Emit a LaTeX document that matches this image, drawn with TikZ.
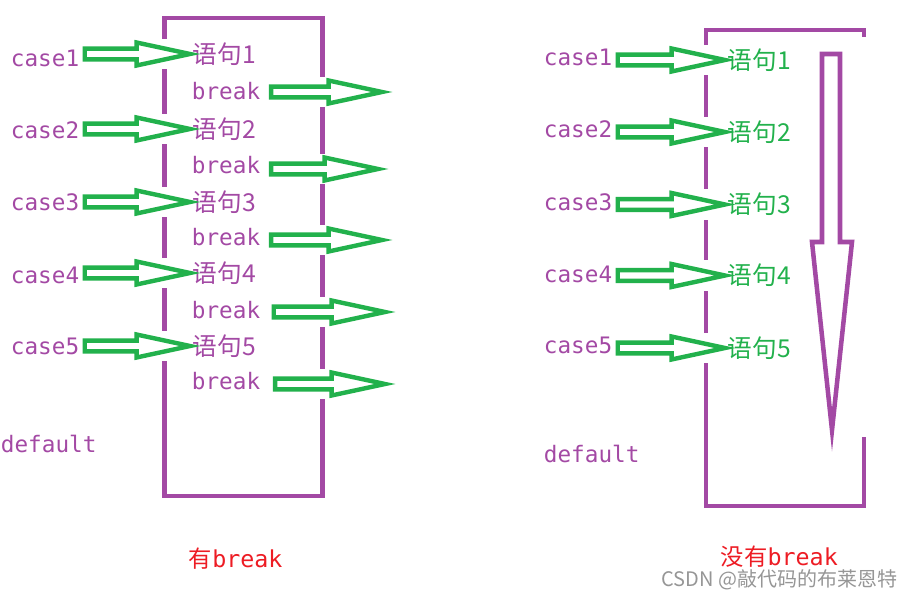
\documentclass[tikz,border=0pt]{standalone}
\usepackage{fontspec}
\setmainfont{DejaVu Sans Mono}
\newfontfamily\cjk{Noto Sans CJK SC}
\usetikzlibrary{calc}
\definecolor{vio}{RGB}{163,73,164}
\definecolor{grn}{RGB}{34,177,76}
\definecolor{rd}{RGB}{237,28,36}
\definecolor{wm}{RGB}{150,150,150}
\tikzset{
  lbl/.style={text=vio, font=\fontsize{17}{20}\selectfont, inner sep=2pt, anchor=base west},
  stmt/.style={font=\cjk\fontsize{18.5}{22}\selectfont, inner sep=2pt, anchor=west},
  title/.style={text=rd, font=\fontsize{17.5}{21}\selectfont, inner sep=2pt, anchor=base west},
  frame/.style={draw=vio, line width=3.4pt},
  cover/.style={fill=white, to path={let \p1=(\tikztostart), \p2=(\tikztotarget) in
    (\x1,\y2-11.5pt) rectangle (\x2,\y2+11.5pt)}},
  blockarrow/.style={draw=grn, line width=3.3pt, fill=white, to path={let \p1=(\tikztostart), \p2=(\tikztotarget) in
    (\x1,\y2+4pt) -- (\x2-40pt,\y2+4pt) -- (\x2-40pt,\y2+8.6pt) -- (\x2,\y2)
    -- (\x2-40pt,\y2-8.6pt) -- (\x2-40pt,\y2-4pt) -- (\x1,\y2-4pt) -- cycle}}
}
\begin{document}
\begin{tikzpicture}[x=0.75pt,y=-0.75pt]
\useasboundingbox (0,0) rectangle (907,599);
\path node[lbl] (lc1) at (8,67) {case1}
node[lbl] (lc2) at (8,139) {case2}
node[lbl] (lc3) at (8,211) {case3}
node[lbl] (lc4) at (8,283) {case4}
node[lbl] (lc5) at (8,354) {case5}
node[stmt, text=vio] (ls1) at (190,54) {语句1}
node[stmt, text=vio] (ls2) at (190,129) {语句2}
node[stmt, text=vio] (ls3) at (190,202) {语句3}
node[stmt, text=vio] (ls4) at (190,273) {语句4}
node[stmt, text=vio] (ls5) at (190,346) {语句5}
node[lbl] (lb1) at (189,100) {break}
node[lbl] (lb2) at (189,174) {break}
node[lbl] (lb3) at (189,246) {break}
node[lbl] (lb4) at (189,318) {break}
node[lbl] (lb5) at (189,389) {break}
node[lbl] (ldef) at (-2,452) {default}
node[title] (ltitle) at (186,567) {{\cjk 有}break}
coordinate (lo1) at (382,92)
coordinate (lo2) at (378,169)
coordinate (lo3) at (382,240)
coordinate (lo4) at (385,312)
coordinate (lo5) at (385,384)
node[lbl] (rc1) at (541,66) {case1}
node[lbl] (rc2) at (541,138) {case2}
node[lbl] (rc3) at (541,210) {case3}
node[lbl] (rc4) at (541,282) {case4}
node[lbl] (rc5) at (541,353) {case5}
node[stmt, text=grn] (rs1) at (725,60) {语句1}
node[stmt, text=grn] (rs2) at (725,132) {语句2}
node[stmt, text=grn] (rs3) at (725,204.5) {语句3}
node[stmt, text=grn] (rs4) at (725,275.5) {语句4}
node[stmt, text=grn] (rs5) at (725,348) {语句5}
node[lbl] (rdef) at (541,462) {default}
node[title] (rtitle) at (718,565) {{\cjk 没有}break}
node[text=wm, font=\cjk\fontsize{15}{18}\selectfont, anchor=base west, inner sep=0pt] (mark) at (661,586) {CSDN @敲代码的布莱恩特}
;
\draw[frame] (164.5,18) rectangle (322.5,496);
\draw[frame] (864,37) -- (864,30) -- (706,30) -- (706,506) -- (864,506) -- (864,437);
\draw[vio, line width=3.4pt] (822,54) -- (840,54) -- (840,242) -- (852,242) -- (832,430) -- (812,242) -- (822,242) -- cycle;
\path[cover] ([xshift=2pt]lc1.east) to (ls1.west);
\path[cover] ([xshift=2pt]lc2.east) to (ls2.west);
\path[cover] ([xshift=2pt]lc3.east) to (ls3.west);
\path[cover] ([xshift=2pt]lc4.east) to (ls4.west);
\path[cover] ([xshift=2pt]lc5.east) to (ls5.west);
\path[cover] ([xshift=6pt]lb1.east) to (lo1);
\path[cover] ([xshift=6pt]lb2.east) to (lo2);
\path[cover] ([xshift=6pt]lb3.east) to (lo3);
\path[cover] ([xshift=8pt]lb4.east) to (lo4);
\path[cover] ([xshift=9pt]lb5.east) to (lo5);
\path[cover] ([xshift=2pt]rc1.east) to (rs1.west);
\path[cover] ([xshift=2pt]rc2.east) to (rs2.west);
\path[cover] ([xshift=2pt]rc3.east) to (rs3.west);
\path[cover] ([xshift=2pt]rc4.east) to (rs4.west);
\path[cover] ([xshift=2pt]rc5.east) to (rs5.west);
\draw[blockarrow] ([xshift=2pt]lc1.east) to (ls1.west);
\draw[blockarrow] ([xshift=2pt]lc2.east) to (ls2.west);
\draw[blockarrow] ([xshift=2pt]lc3.east) to (ls3.west);
\draw[blockarrow] ([xshift=2pt]lc4.east) to (ls4.west);
\draw[blockarrow] ([xshift=2pt]lc5.east) to (ls5.west);
\draw[blockarrow] ([xshift=6pt]lb1.east) to (lo1);
\draw[blockarrow] ([xshift=6pt]lb2.east) to (lo2);
\draw[blockarrow] ([xshift=6pt]lb3.east) to (lo3);
\draw[blockarrow] ([xshift=8pt]lb4.east) to (lo4);
\draw[blockarrow] ([xshift=9pt]lb5.east) to (lo5);
\draw[blockarrow] ([xshift=2pt]rc1.east) to (rs1.west);
\draw[blockarrow] ([xshift=2pt]rc2.east) to (rs2.west);
\draw[blockarrow] ([xshift=2pt]rc3.east) to (rs3.west);
\draw[blockarrow] ([xshift=2pt]rc4.east) to (rs4.west);
\draw[blockarrow] ([xshift=2pt]rc5.east) to (rs5.west);
\end{tikzpicture}
\end{document}
